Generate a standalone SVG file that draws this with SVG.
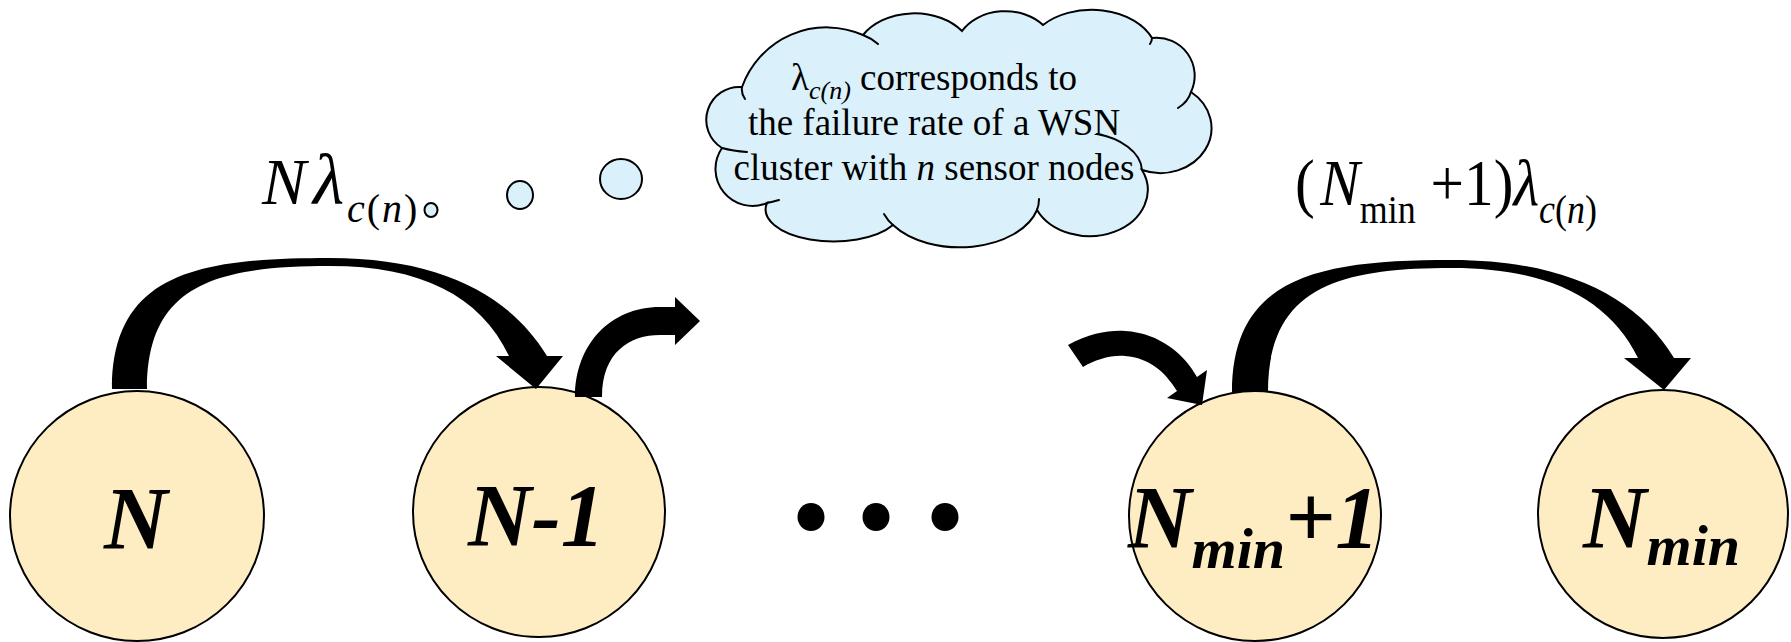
<svg xmlns="http://www.w3.org/2000/svg" width="1791" height="642" viewBox="0 0 1791 642">
  <style>
    .state { fill: #FEEDC3; stroke: #000; stroke-width: 2; }
    .state-label { font-family: "Liberation Serif", "Times New Roman", serif; font-weight: bold; font-style: italic; font-size: 88px; fill: #000; }
    .state-sub { font-size: 58px; }
    .rate { font-family: "Liberation Serif", "Times New Roman", serif; font-size: 66px; fill: #000; }
    .it { font-style: italic; }
    .thought { fill: #DAF1FB; stroke: #000; stroke-width: 2; }
    .thought-line { fill: none; stroke: #000; stroke-width: 2; stroke-linecap: round; }
    .note { font-family: "Liberation Serif", "Times New Roman", serif; font-size: 37px; fill: #000; text-anchor: middle; }
    .arrow { fill: #000; stroke: none; }
    .dot { fill: #000; }
  </style>

  <rect width="1791" height="642" fill="#fff"/>

  <!-- state nodes -->
  <g id="node-N">
    <ellipse class="state" cx="137" cy="516" rx="127" ry="125"/>
    <text class="state-label" x="104" y="548">N</text>
  </g>
  <g id="node-N-1">
    <ellipse class="state" cx="539" cy="512" rx="126" ry="125"/>
    <text class="state-label" x="468" y="545">N-1</text>
  </g>
  <g id="node-Nmin-plus-1">
    <ellipse class="state" cx="1255" cy="516" rx="126" ry="125"/>
    <text class="state-label" x="1128" y="547">N<tspan class="state-sub" dy="21">min</tspan><tspan dy="-21">+1</tspan></text>
  </g>
  <g id="node-Nmin">
    <ellipse class="state" cx="1663" cy="514" rx="125" ry="124"/>
    <text class="state-label" x="1583" y="547">N<tspan class="state-sub" dy="18">min</tspan></text>
  </g>

  <!-- ellipsis between the chain ends -->
  <g id="ellipsis">
    <ellipse class="dot" cx="811" cy="517" rx="13.5" ry="14"/>
    <ellipse class="dot" cx="876" cy="517" rx="13.5" ry="14"/>
    <ellipse class="dot" cx="945" cy="517" rx="13.5" ry="14"/>
  </g>

  <!-- transitions -->
  <g id="connectors">
    <!-- N -> N-1 -->
    <path class="arrow" d="M112,389 C112,272 200,258 330,258 C440,258 510,295 547,356 L563,356 L536,389 L496,356 L509,356 C480,295 420,266 330,266 C215,266 147,285 147,389 Z"/>
    <!-- N-1 -> next -->
    <path class="arrow" d="M575,397 C575,345 610,307 660,307 L675,307 L675,297 L700,321 L675,345 L675,335 L660,335 C630,335 602,352 602,397 Z"/>
    <!-- previous -> Nmin+1 -->
    <path class="arrow" d="M1068,345 C1090,333 1110,330 1125,331 C1160,333 1185,355 1197,377 L1207,370 L1202,405 L1167,398 L1177,391 C1165,372 1150,358 1125,356 C1110,355 1095,360 1083,367 Z"/>
    <!-- Nmin+1 -> Nmin -->
    <path class="arrow" d="M1232,392 C1232,275 1322,260 1452,260 C1565,260 1637,297 1674,358 L1691,358 L1664,390 L1624,358 L1638,358 C1608,297 1545,268 1452,268 C1337,268 1268,288 1268,392 Z"/>
  </g>

  <!-- rate labels -->
  <g id="rate-N">
    <text class="rate" x="262" y="204"><tspan class="it">N</tspan><tspan class="it" x="313" font-size="72">λ</tspan><tspan x="347" font-size="40" dy="18" letter-spacing="2"><tspan class="it">c</tspan>(<tspan class="it">n</tspan>)</tspan></text>
  </g>
  <g id="rate-Nmin">
    <text class="rate" x="1295" y="205" textLength="302" lengthAdjust="spacingAndGlyphs">(<tspan class="it" dx="6">N</tspan><tspan font-size="40" dy="18">min</tspan><tspan dy="-18"> +1)</tspan><tspan class="it">λ</tspan><tspan font-size="40" dy="18"><tspan class="it">c</tspan>(<tspan class="it">n</tspan>)</tspan></text>
  </g>

  <!-- thought callout -->
  <g id="callout">
    <ellipse class="thought" cx="431" cy="210" rx="6.5" ry="7"/>
    <ellipse class="thought" cx="520" cy="195" rx="13" ry="14"/>
    <ellipse class="thought" cx="621" cy="179" rx="21" ry="20"/>
    <path class="thought" d="M742,87 A90,90 0 0 1 863,35 A60,45 0 0 1 962,31 A50,40 0 0 1 1043,25 A65,45 0 0 1 1152,38 A38,38 0 0 1 1191,92 A51,45 0 0 1 1142,170 A58,46 0 0 1 1037,210 A80,50 0 0 1 893,225 A68,32 0 0 1 767,203 A37,37 0 0 1 722,148 A33,33 0 0 1 742,87 Z"/>
    <path class="thought-line" d="M742,87 Q741,93 745,99 M863,35 Q871,38 878,44 M1152,38 Q1152,41 1150,44 M1191,92 Q1188,102 1178,108 M1142,170 C1141,152 1120,138 1097,134 M1037,210 Q1039,205 1039,199 M893,225 Q888,221 884,214 M767,203 Q772,202 779,200 M722,148 Q733,151 747,152"/>
    <text class="note" x="934" y="90">λ<tspan class="it" font-size="26" dy="9">c(n)</tspan><tspan dy="-9"> corresponds to</tspan></text>
    <text class="note" x="934" y="135">the failure rate of a WSN</text>
    <text class="note" x="934" y="180">cluster with <tspan class="it">n</tspan> sensor nodes</text>
  </g>
</svg>
